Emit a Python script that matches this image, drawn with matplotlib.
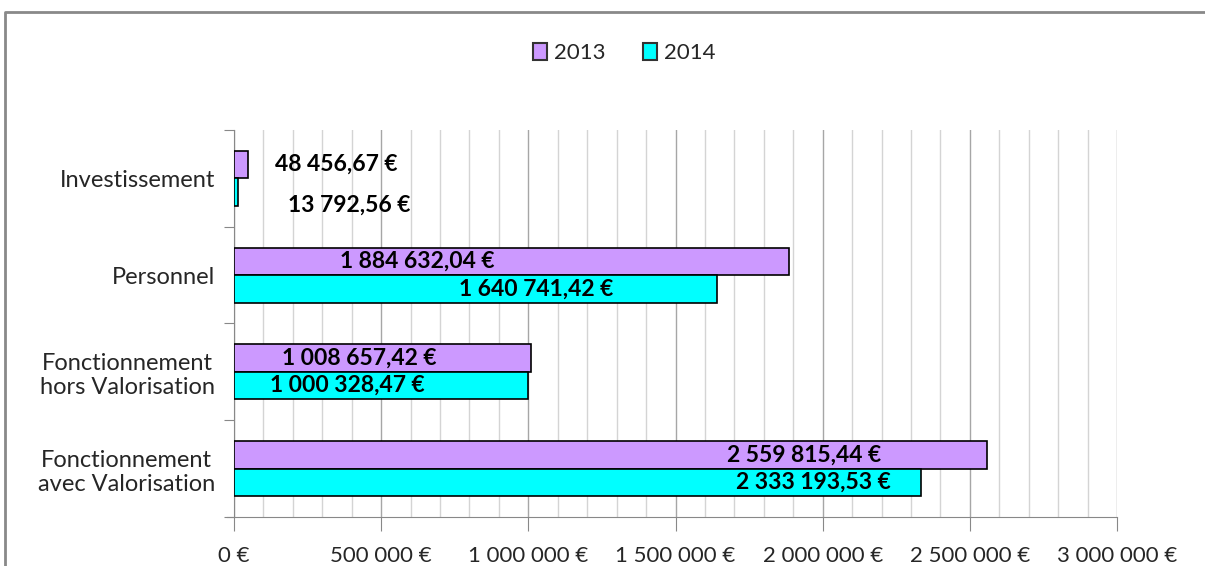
import matplotlib.pyplot as plt
from matplotlib.lines import Line2D
from matplotlib.patches import Patch
from matplotlib.ticker import MultipleLocator, FuncFormatter
import numpy as np

# --- Data ---
categories = ["Investissement", "Personnel", "Fonctionnement\nhors Valorisation",
              "Fonctionnement\navec Valorisation"]
years = ["2013", "2014"]
values_2013 = [48456.67, 1884632.04, 1008657.42, 2559815.44]
values_2014 = [13792.56, 1640741.42, 1000328.47, 2333193.53]

colors = ["#CC99FF", "#00FFFF"]

# label positions (x in data units, as placed in the original)
label_x_2013 = [348000, 623000, 425000, 1937000]
label_x_2014 = [391000, 1026000, 386000, 1969000]

FONT = ["Lato", "DejaVu Sans"]
TXT = "#262626"


def euro(v, decimals=0):
    s = f"{v:,.{decimals}f}".replace(",", " ").replace(".", ",")
    return s + " €"


fig = plt.figure(figsize=(12.05, 5.66), dpi=100)
ax = fig.add_axes([0.1942, 0.0866, 0.7328, 0.6837])

y = np.arange(len(categories))
h = 0.285
ax.barh(y - h / 2, values_2013, height=h, color=colors[0], edgecolor="black", linewidth=1.2, zorder=3)
ax.barh(y + h / 2, values_2014, height=h, color=colors[1], edgecolor="black", linewidth=1.2, zorder=3)

ax.set_xlim(0, 3000000)
ax.set_ylim(3.5, -0.5)

# grid
ax.xaxis.set_major_locator(MultipleLocator(500000))
ax.xaxis.set_minor_locator(MultipleLocator(100000))
ax.grid(axis="x", which="minor", color="#d4d4d4", linewidth=1, zorder=0)
ax.grid(axis="x", which="major", color="#a6a6a6", linewidth=1, zorder=0)
ax.xaxis.set_major_formatter(FuncFormatter(lambda v, p: euro(v)))
ax.tick_params(axis="x", which="major", length=10, color="#888888", pad=11, labelcolor=TXT)
ax.tick_params(axis="x", which="minor", length=0)
for lab in ax.get_xticklabels():
    lab.set_fontfamily(FONT)
    lab.set_fontsize(16)

# y axis: ticks at category boundaries, labels at centers
ax.set_yticks(np.arange(-0.5, len(categories), 1.0))
ax.set_yticklabels([])
ax.tick_params(axis="y", length=7, color="#888888")
ax.set_yticks(y, minor=True)
ax.set_yticklabels(categories, minor=True)
ax.tick_params(axis="y", which="minor", length=0, pad=13.5, labelcolor=TXT)
for lab in ax.get_yticklabels(minor=True):
    lab.set_fontfamily(FONT)
    lab.set_fontsize(17)
    lab.set_multialignment("center")

for s in ["top", "right"]:
    ax.spines[s].set_visible(False)
ax.spines["left"].set_color("#888888")
ax.spines["bottom"].set_color("#888888")
ax.spines["bottom"].set_bounds(-25000, 3000000)

# data labels
for i in range(len(categories)):
    ax.text(label_x_2013[i], y[i] - h / 2, euro(values_2013[i], 2), ha="center", va="center",
            fontsize=16.5, fontweight="bold", family=FONT, color="black", zorder=4)
    dy = 0.13 if i == 0 else 0
    ax.text(label_x_2014[i], y[i] + h / 2 + dy, euro(values_2014[i], 2), ha="center", va="center",
            fontsize=16.5, fontweight="bold", family=FONT, color="black", zorder=4)

# legend
handles = [Patch(facecolor=c, edgecolor="#333333", linewidth=1.5) for c in colors]
fig.legend(handles, years, loc="center", bbox_to_anchor=(0.518, 0.906), ncol=2, frameon=False,
           handlelength=0.63, handleheight=0.8, handletextpad=0.3, columnspacing=1.7,
           labelcolor=TXT, prop={"family": FONT, "size": 16})

# chart-area border (top + left)
fig.add_artist(Line2D([5 / 1205, 5 / 1205, 1.0], [0.0, 1 - 12 / 566, 1 - 12 / 566],
                      transform=fig.transFigure, color="#898989", linewidth=2))

fig.savefig("out.png", dpi=100)
